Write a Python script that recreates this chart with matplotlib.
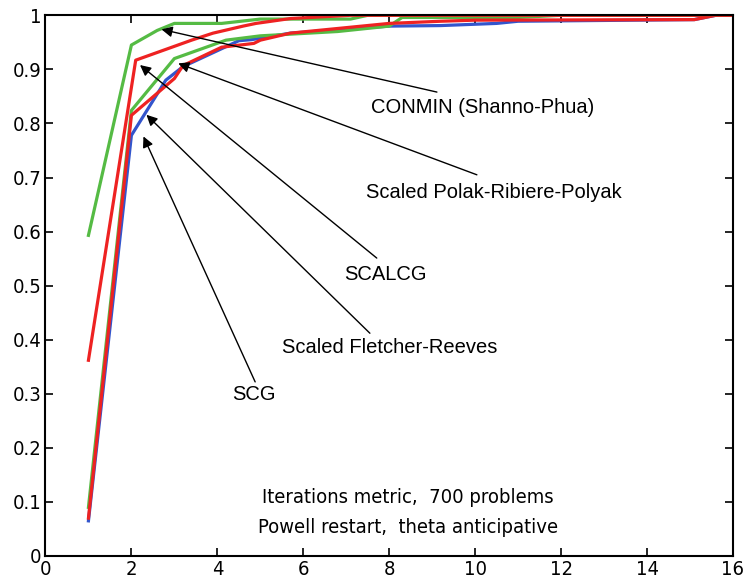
import matplotlib
matplotlib.use("Agg")
import matplotlib.pyplot as plt

# performance profile curves
x_conmin = [1, 2, 2.6, 3, 4.1, 5, 7.1, 7.5, 16]
y_conmin = [0.593, 0.945, 0.972, 0.985, 0.985, 0.993, 0.993, 1.0, 1.0]

x_prp = [1, 2.1, 3.4, 3.9, 4.6, 4.9, 5.7, 7.1, 16]
y_prp = [0.362, 0.917, 0.954, 0.967, 0.98, 0.985, 0.994, 1.0, 1.0]

x_scalcg = [1, 2, 3, 4.2, 5, 6.8, 8, 8.3, 11, 12, 16]
y_scalcg = [0.09, 0.824, 0.92, 0.954, 0.962, 0.97, 0.98, 0.996, 0.996, 1.0, 1.0]

x_fr = [1, 2, 3, 3.2, 4.1, 4.85, 5, 5.7, 8, 9.2, 10, 15.1, 15.6, 16]
y_fr = [0.07, 0.815, 0.883, 0.907, 0.941, 0.948, 0.954, 0.967, 0.985, 0.989, 0.991, 0.992, 1.0, 1.0]

x_scg = [1, 2, 2.8, 3.2, 4.5, 4.8, 5.7, 8, 9.2, 10.5, 11, 15.1, 15.6, 16]
y_scg = [0.065, 0.778, 0.88, 0.905, 0.953, 0.955, 0.967, 0.98, 0.981, 0.985, 0.989, 0.992, 1.0, 1.0]

# labels: text, arrow tip, arrow tail, text position
labels = ["CONMIN (Shanno-Phua)", "Scaled Polak-Ribiere-Polyak", "SCALCG",
          "Scaled Fletcher-Reeves", "SCG"]
tips = [(2.70, 0.974), (3.09, 0.911), (2.20, 0.908), (2.35, 0.816), (2.28, 0.776)]
tails = [(9.11, 0.858), (10.04, 0.705), (7.71, 0.551), (7.55, 0.412), (4.88, 0.322)]
text_pos = [(10.18, 0.830), (10.44, 0.673), (7.92, 0.520), (8.02, 0.385), (4.85, 0.298)]

green = "#55bb44"
red = "#ee2222"
blue = "#3355cc"

plt.rcParams["font.family"] = ["DejaVu Sans"]
plt.rcParams["font.stretch"] = "condensed"

fig = plt.figure(figsize=(7.43, 5.86), dpi=100)
ax = fig.add_axes([0.0612, 0.0512, 0.9253, 0.9227])

lw = 2.3
ax.plot(x_scg, y_scg, color=blue, lw=lw)
ax.plot(x_scalcg, y_scalcg, color=green, lw=lw)
ax.plot(x_fr, y_fr, color=red, lw=lw)
ax.plot(x_conmin, y_conmin, color=green, lw=lw)
ax.plot(x_prp, y_prp, color=red, lw=lw)

for lab, tip, tail, pos in zip(labels, tips, tails, text_pos):
    ax.annotate("", xy=tip, xytext=tail,
                arrowprops=dict(arrowstyle="-|>", color="k", lw=1,
                                mutation_scale=16, shrinkA=0, shrinkB=0))
    ax.text(pos[0], pos[1], lab, ha="center", va="center", fontsize=14.5,
            family="Liberation Sans", stretch="normal")

ax.text(8.43, 0.109, "Iterations metric,  700 problems", ha="center", va="center", fontsize=14.5)
ax.text(8.43, 0.052, "Powell restart,  theta anticipative", ha="center", va="center", fontsize=14.5)

ax.set_xlim(0, 16)
ax.set_ylim(0, 1)
ax.set_xticks(range(0, 17, 2))
ax.set_yticks([i / 10 for i in range(11)])
ax.set_yticklabels(["0", "0.1", "0.2", "0.3", "0.4", "0.5", "0.6", "0.7", "0.8", "0.9", "1"])
ax.tick_params(direction="in", length=6, width=1.2, top=True, right=True,
               labelsize=14.5, pad=3)
for s in ax.spines.values():
    s.set_linewidth(1.5)

fig.savefig("out.png", dpi=100)
